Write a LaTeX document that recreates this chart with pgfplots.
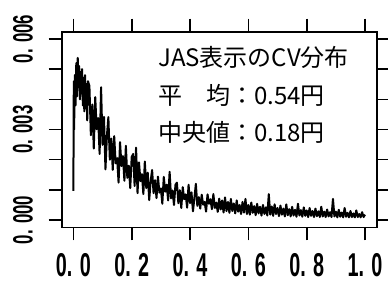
\documentclass[border=0pt]{standalone}
\usepackage{pgfplots}
\pgfplotsset{compat=1.18}
\usepackage{fontspec}
\newfontfamily\jp{Noto Sans CJK JP}
\newfontfamily\tickfont[FakeStretch=0.6]{Liberation Sans}
% density values in units of 1e-4
\pgfplotstableread{
x y
0.000 9.7
0.0015 46
0.0025 30
0.005 48
0.0075 38
0.010 52
0.0125 41
0.015 53.7
0.0175 44
0.020 51
0.0225 40
0.025 49
0.0275 42
0.030 50
0.0325 38
0.035 47
0.0375 36
0.040 48
0.0425 37
0.045 45
0.0475 33
0.050 46
0.055 44.5
0.060 28.1
0.065 38.3
0.070 23.7
0.075 40.7
0.080 30.1
0.085 33.8
0.090 21.9
0.095 44
0.100 24.9
0.105 34.2
0.110 16.8
0.115 27.9
0.120 34.1
0.125 20
0.130 27.0
0.135 16.6
0.140 27.8
0.145 18.8
0.150 20.5
0.155 12.4
0.160 25.8
0.165 17.9
0.170 21.2
0.175 13
0.180 24.6
0.185 14
0.190 18
0.195 10.6
0.200 20.9
0.205 21.9
0.210 11.3
0.215 24
0.220 8.9
0.225 19.1
0.230 12.9
0.235 15.2
0.240 8.6
0.245 19.4
0.250 10.6
0.255 15.7
0.260 6.6
0.265 12.8
0.270 16.6
0.275 8.9
0.280 13.2
0.285 7.3
0.290 14.4
0.295 9.1
0.300 10.5
0.305 5.4
0.310 14.3
0.315 9.4
0.320 11.7
0.325 6.5
0.330 16
0.335 7.2
0.340 9.8
0.345 5.0
0.350 11.7
0.355 12.4
0.360 5.6
0.365 9.9
0.370 4.0
0.375 10.9
0.380 6.9
0.385 8.5
0.390 4.1
0.395 11.7
0.400 5.6
0.405 9.2
0.410 2.9
0.415 7.3
0.420 12
0.425 4.7
0.430 7.6
0.435 3.8
0.440 8.4
0.445 5.1
0.450 6.0
0.455 2.8
0.460 8.5
0.465 5.4
0.470 6.9
0.475 3.6
0.480 8.6
0.485 4.0
0.490 5.8
0.495 2.7
0.500 7.1
0.505 3.5
0.510 6.5
0.515 2.5
0.520 7.5
0.525 3
0.530 6
0.535 2.4
0.540 7
0.545 3
0.550 5.5
0.555 2.2
0.560 6.5
0.565 2.8
0.570 5
0.575 2
0.580 6
0.585 2.5
0.590 7
0.595 2
0.600 5
0.605 1.8
0.610 5.8
0.615 2.4
0.620 4.6
0.625 1.6
0.630 5.4
0.635 2.2
0.640 4.4
0.645 1.5
0.650 5
0.655 2
0.660 4.2
0.665 1.5
0.670 8.6
0.675 1.8
0.680 4.5
0.685 1.4
0.690 5.2
0.695 2
0.700 4
0.705 1.3
0.710 4.8
0.715 1.8
0.720 3.8
0.725 1.2
0.730 5.2
0.735 1.6
0.740 3.6
0.745 1.2
0.750 4.4
0.755 1.5
0.760 3.4
0.765 1.1
0.770 5.4
0.775 1.5
0.780 3.3
0.785 1.1
0.790 4.2
0.795 1.4
0.800 3.2
0.805 1
0.810 4
0.815 1.4
0.820 3
0.825 1
0.830 3.8
0.835 1.3
0.840 2.9
0.845 1
0.850 4.4
0.855 1.2
0.860 2.8
0.865 1
0.870 3.5
0.875 1.2
0.880 2.6
0.885 1
0.890 7
0.895 1.2
0.900 2.8
0.905 0.9
0.910 3.4
0.915 1.1
0.920 2.5
0.925 0.9
0.930 4
0.935 1.1
0.940 2.4
0.945 0.9
0.950 3
0.955 1
0.960 2.2
0.965 0.9
0.970 3.2
0.975 1
0.980 2
0.985 0.9
0.990 2.6
0.995 1
1.000 1.8
}\cvdata
\begin{document}
\begin{tikzpicture}[x=1pt,y=1pt]
\path[use as bounding box] (0,0) rectangle (388,290);
\begin{axis}[
  at={(61.7pt,62.7pt)}, anchor=south west,
  scale only axis, width=315pt, height=195.6pt,
  xmin=-0.04, xmax=1.04, ymin=-2.4, ymax=62.4,
  axis line style={line width=1.6pt},
  tick align=outside, major tick length=13pt,
  every tick/.style={line width=1.6pt, black},
  xtick={0,0.2,0.4,0.6,0.8,1.0},
  xticklabels={0. 0,0. 2,0. 4,0. 6,0. 8,1. 0},
  ytick={0,10,20,30,40,50,60},
  yticklabels={0. 000,,,0. 003,,,0. 006},
  xticklabel style={font=\tickfont\bfseries\fontsize{33}{33}\selectfont, anchor=north, inner sep=0pt, yshift=-12.7pt},
  yticklabel style={font=\tickfont\bfseries\fontsize{28}{28}\selectfont, inner sep=0pt, xshift=-15.7pt, rotate=90, anchor=south},
]
\addplot[black, line width=2pt, line join=round] table[x=x,y=y] {\cvdata};
\end{axis}
\begin{scope}[every node/.style={anchor=base west, inner sep=0pt, font=\jp\fontsize{24}{24}\selectfont}]
\node at (158,223.3) {JAS表示のCV分布};
\node at (158,186) {平　均：0.54円};
\node at (158,149) {中央値：0.18円};
\end{scope}
\end{tikzpicture}
\end{document}
